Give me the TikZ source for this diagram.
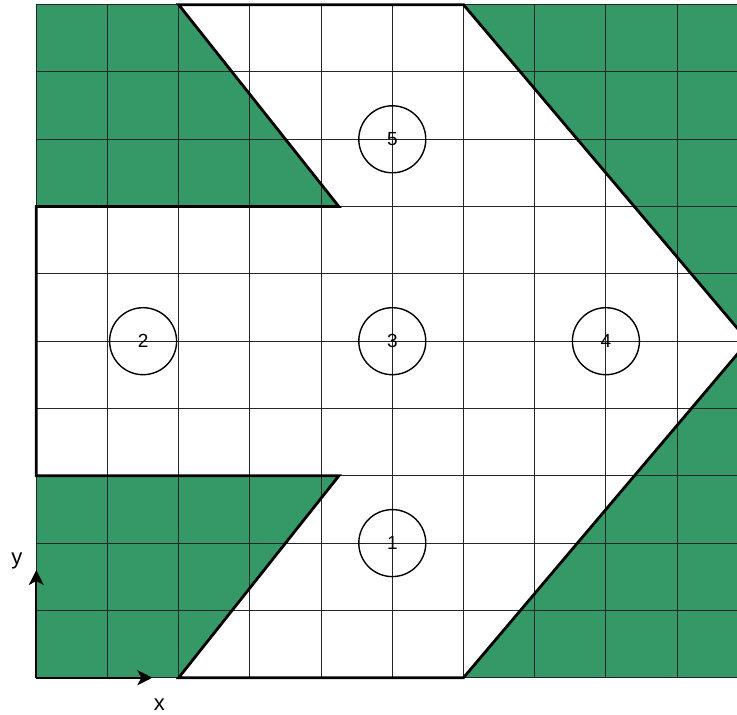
\documentclass[tikz,border=0pt]{standalone}
\usepackage{fontspec}
\setmainfont{Liberation Sans}
\usetikzlibrary{arrows.meta}
\definecolor{fieldgreen}{RGB}{52,153,102}
\begin{document}
\begin{tikzpicture}[x=71.2pt,y=67.3pt,
  spot/.style={circle, draw, line width=1.4pt, minimum size=67pt, inner sep=0pt, font=\fontsize{19}{22}\selectfont},
  axislabel/.style={inner sep=0pt, font=\fontsize{22}{26}\selectfont},
  axis/.style={-{Stealth[length=15pt,width=15pt,inset=4pt]}, line width=2.2pt}]
\useasboundingbox (-36.3pt,-37.3pt) rectangle (700.7pt,677.7pt);
\clip (-36.3pt,-37.3pt) rectangle (700.7pt,677.7pt);
\fill[fieldgreen] (0,0) rectangle (10,10);
\fill[white] (2,10) -- (6,10) -- (10,5) -- (6,0) -- (2,0) -- (4.25,3) -- (0,3) -- (0,7) -- (4.25,7) -- cycle;
\draw[black!85, line width=1pt, xstep=71.2pt, ystep=67.3pt] (0,0) grid (10,10);
\draw[line width=2.8pt] (2,10) -- (6,10) -- (10,5) -- (6,0) -- (2,0) -- (4.25,3) -- (0,3) -- (0,7) -- (4.25,7) -- cycle;
\node[spot] (z1) at (5,2) {1};
\node[spot] (z2) at (1.5,5) {2};
\node[spot] (z3) at (5,5) {3};
\node[spot] (z4) at (8,5) {4};
\node[spot] (z5) at (5,8) {5};
\coordinate (origin) at (0,0);
\coordinate (xtip) at (1.63,0);
\coordinate (ytip) at (0,1.6);
\draw[axis] (origin) -- (xtip);
\draw[axis] (origin) -- (ytip);
\node[axislabel] (xlabel) at (1.73,-0.398) {x};
\node[axislabel] (ylabel) at (-0.274,1.737) {y};
\end{tikzpicture}
\end{document}
